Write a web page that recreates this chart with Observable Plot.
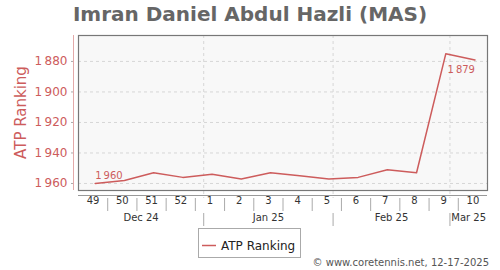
<!DOCTYPE html>
<html>
<head>
<meta charset="utf-8">
<script src="https://cdn.jsdelivr.net/npm/d3@7"></script>
<script src="https://cdn.jsdelivr.net/npm/@observablehq/plot@0.6"></script>
<style>
  html, body { margin: 0; padding: 0; background: #fff; }
  #chart { width: 500px; height: 270px; }
  svg { font-family: "DejaVu Sans", sans-serif; }
</style>
</head>
<body>
<div id="chart"></div>
<script>
const title = "Imran Daniel Abdul Hazli (MAS)";
const seriesName = "ATP Ranking";
const caption = "© www.coretennis.net, 12-17-2025";
const weeks = [49, 50, 51, 52, 1, 2, 3, 4, 5, 6, 7, 8, 9, 10];
const ranks = [1960, 1958, 1953, 1956, 1954, 1957, 1953, 1955, 1957, 1956, 1951, 1953, 1875, 1879];
const yTicks = [1880, 1900, 1920, 1940, 1960];
const monthLabels = ["Dec 24", "Jan 25", "Feb 25", "Mar 25"];
const monthStartStr = ["2024-12-01", "2025-01-01", "2025-02-01", "2025-03-01"];
const firstWeekStartStr = "2024-12-02";

const RED = "#cd5c5c";
const DAY = 864e5;
const t0 = new Date(firstWeekStartStr + "T00:00:00Z");
const weekStart = weeks.map((w, i) => new Date(+t0 + i * 7 * DAY));
const t1 = new Date(+t0 + weeks.length * 7 * DAY);
const data = weeks.map((w, i) => ({
  week: w,
  rank: ranks[i],
  date: new Date(+weekStart[i] + 4 * DAY),
  mid: new Date(+weekStart[i] + 3.5 * DAY)
}));
const monthStarts = monthStartStr.map(s => new Date(s + "T00:00:00Z"));
const months = monthLabels.map((m, i) => {
  const a = Math.max(+monthStarts[i], +t0);
  const b = i + 1 < monthStarts.length ? +monthStarts[i + 1] : +t1;
  return { label: m, mid: new Date((a + Math.min(b, +t1)) / 2) };
});
const gridMonths = monthStarts.filter(d => d > t0);
const weekBounds = weekStart.slice(1);
const fmt = d => String(d).replace(/^(\d)(\d{3})$/, "$1\u2009$2");
const yDom = [1863, 1964.6];

const plot = Plot.plot({
  width: 500,
  height: 270,
  marginLeft: 78,
  marginRight: 13,
  marginTop: 35,
  marginBottom: 80,
  style: { fontFamily: "DejaVu Sans, sans-serif", background: "#fff" },
  x: { type: "utc", domain: [t0, t1], axis: null },
  y: { domain: yDom, range: [35, 190], axis: null },
  marks: [
    Plot.frame({ fill: "#f8f8f8" }),
    Plot.ruleY(yTicks, { stroke: "#d6d6d6", strokeDasharray: "3,3" }),
    Plot.ruleX(gridMonths, { stroke: "#d6d6d6", strokeDasharray: "3,3", insetBottom: -8 }),
    Plot.frame({ stroke: "#777", strokeWidth: 1.2 }),
    Plot.ruleX([t0], { dx: -5, stroke: "#e3a9a9" }),
    Plot.axisY(yTicks, {
      anchor: "left", dx: -5, tickSize: 2, tickPadding: 4,
      tickFormat: fmt, fontSize: 12, fill: RED, stroke: "#aaa", label: null
    }),
    Plot.ruleY([yDom[1]], { dy: 5, stroke: "#999" }),
    Plot.ruleX(weekBounds, { stroke: "#aaa", insetTop: 163, insetBottom: -21 }),
    Plot.ruleX(gridMonths, { stroke: "#aaa", insetTop: 178, insetBottom: -36 }),
    Plot.text(data, { x: "mid", text: d => String(d.week), frameAnchor: "bottom", dy: 13.8, fontSize: 10, fill: "#333" }),
    Plot.text(months, { x: "mid", text: "label", frameAnchor: "bottom", dy: 30.5, fontSize: 10, fill: "#333" }),
    Plot.line(data, { x: "date", y: "rank", stroke: RED, strokeWidth: 1.5 }),
    Plot.text([data[0]], { x: "date", y: "rank", text: d => fmt(d.rank), textAnchor: "start", dy: -7.5, fontSize: 10, fill: RED }),
    Plot.text([data[data.length - 1]], { x: "date", y: "rank", text: d => fmt(d.rank), textAnchor: "end", dx: 0, dy: 10, fontSize: 10, fill: RED })
  ]
});

document.getElementById("chart").appendChild(plot);
const svg = d3.select(plot);

svg.append("text")
  .attr("x", 250).attr("y", 21)
  .attr("text-anchor", "middle")
  .attr("font-size", 20).attr("font-weight", "bold")
  .attr("fill", "#666")
  .text(title);

svg.append("text")
  .attr("transform", "translate(26,112.5) rotate(-90)")
  .attr("text-anchor", "middle")
  .attr("font-size", 15)
  .attr("fill", RED)
  .text(seriesName);

const lg = svg.append("g");
lg.append("rect").attr("x", 198.5).attr("y", 228.5).attr("width", 102).attr("height", 29)
  .attr("fill", "#fff").attr("stroke", "#aaa");
lg.append("line").attr("x1", 202).attr("x2", 216).attr("y1", 245.5).attr("y2", 245.5)
  .attr("stroke", RED).attr("stroke-width", 1.5);
lg.append("text").attr("x", 221).attr("y", 250)
  .attr("text-anchor", "start")
  .attr("font-size", 12).attr("fill", "#222").text(seriesName);

svg.append("text")
  .attr("x", 489).attr("y", 266)
  .attr("text-anchor", "end")
  .attr("font-size", 10).attr("fill", "#555")
  .text(caption);
</script>
</body>
</html>
